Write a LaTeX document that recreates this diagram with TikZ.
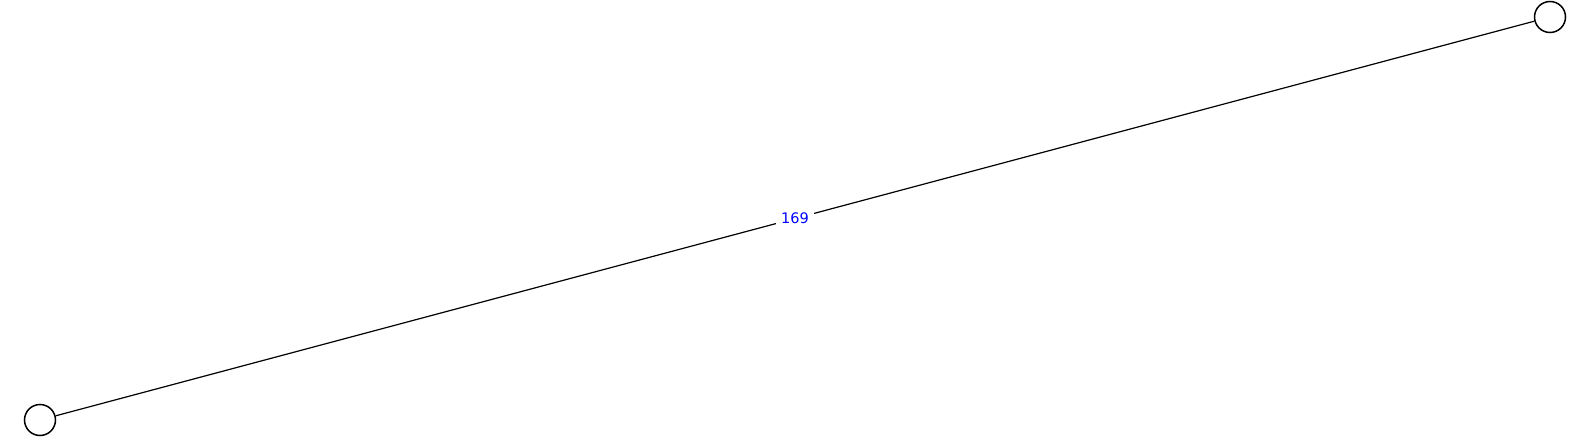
\documentclass[tikz,border=0pt]{standalone}
\usepackage{fontspec}
\setmainfont{DejaVu Sans}
\definecolor{ink}{HTML}{000000}
\definecolor{weightblue}{HTML}{0000FF}

\begin{document}
\begin{tikzpicture}[x=1pt, y=-1pt,
  vertex/.style={draw=ink, circle, line width=1.5pt, minimum size=31pt, inner sep=0pt},
  link/.style={draw=ink, line width=1.2pt},
  weight/.style={text=weightblue, fill=white, font=\fontsize{14.5}{16}\selectfont, inner sep=5pt},
]
\useasboundingbox (0,0) rectangle (1589,438);
\node[vertex] (a) at (40,420) {};
\node[vertex] (b) at (1550,17) {};

\draw[link] (a) -- node[weight] {169} (b);
\end{tikzpicture}
\end{document}
